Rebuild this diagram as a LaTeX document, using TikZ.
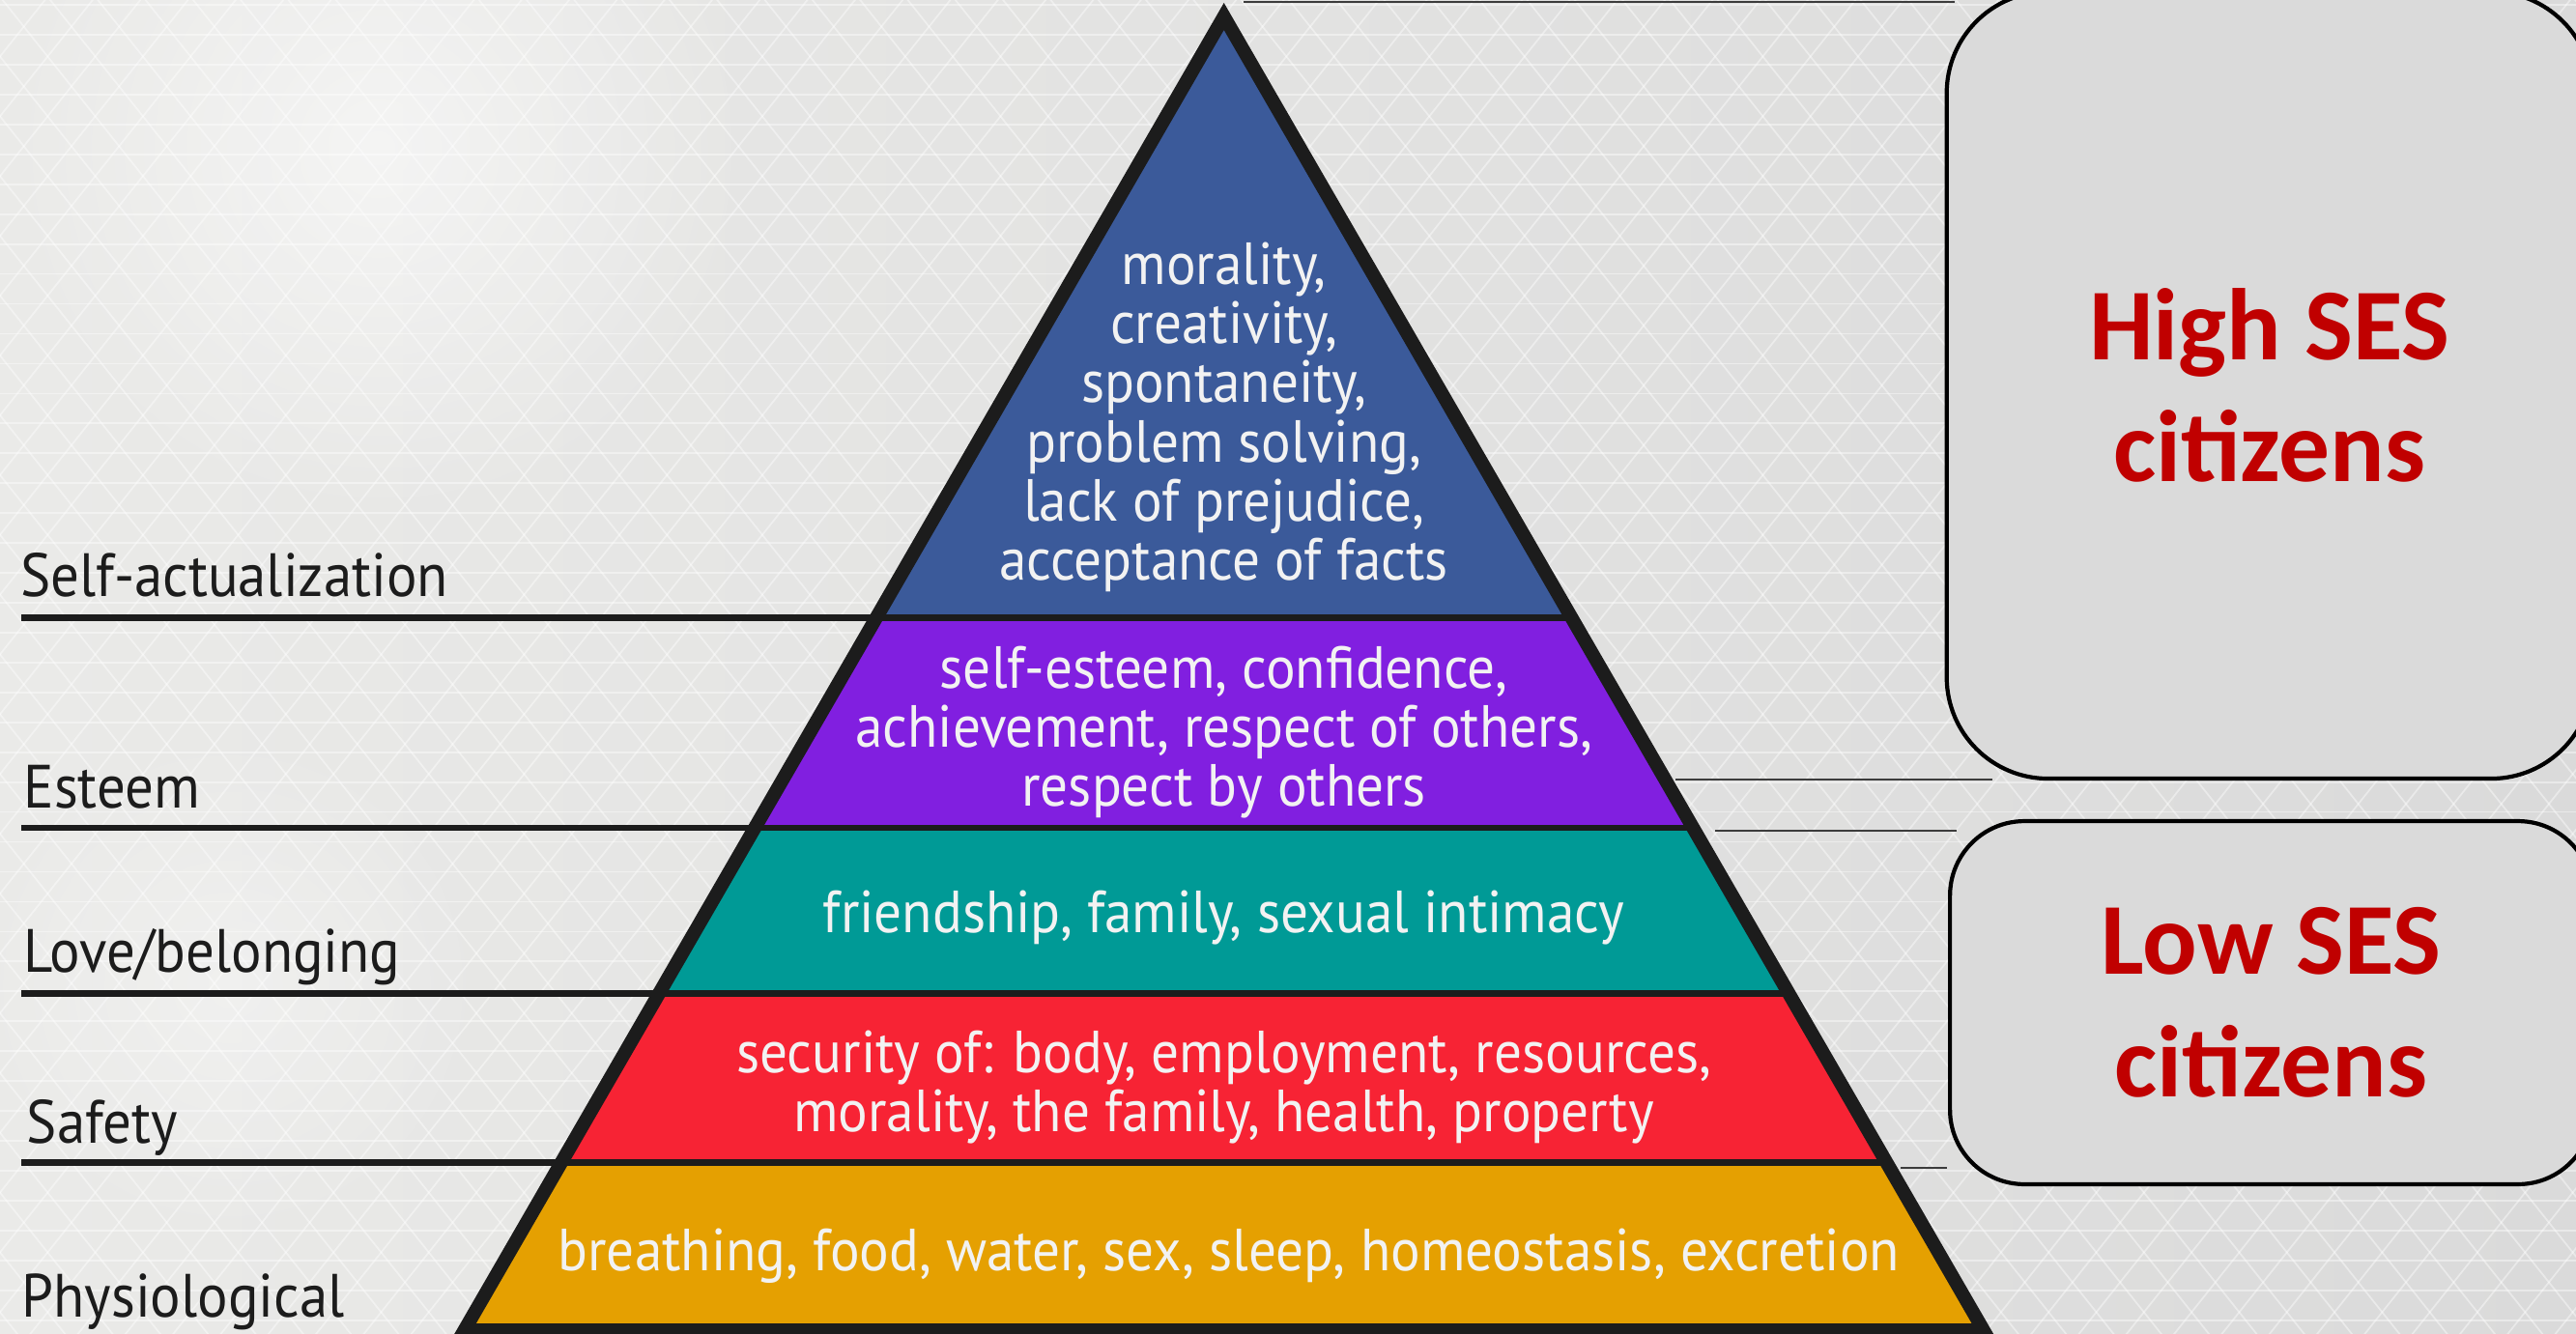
\documentclass[tikz,border=0pt]{standalone}
\usepackage{fontspec}
\usetikzlibrary{calc,fadings}
\newfontfamily\dinfont[FakeStretch=0.93]{PT Sans}
\newfontfamily\calfont{Carlito}

\definecolor{bgleft}{HTML}{EAEAE8}
\definecolor{bgright}{HTML}{DADADA}
\definecolor{tierblue}{HTML}{3B5A9A}
\definecolor{tierpurple}{HTML}{811FE0}
\definecolor{tierteal}{HTML}{009A96}
\definecolor{tierred}{HTML}{F72334}
\definecolor{tiergold}{HTML}{E5A001}
\definecolor{tiertext}{HTML}{F2F2F2}
\definecolor{inkdark}{HTML}{1C1C1C}
\definecolor{boxgray}{HTML}{DADADA}
\definecolor{sesred}{HTML}{C00000}
\definecolor{rulegray}{HTML}{3C3C3C}

\tikzfading[name=softglow, inner color=transparent!0, outer color=transparent!100]

\tikzset{
  tiertxt/.style={font=\dinfont\fontsize{17.5}{17.4}\selectfont, text=tiertext,
    align=center, inner sep=0pt},
  leveltxt/.style={font=\dinfont\fontsize{18}{20}\selectfont, text=inkdark,
    anchor=base west, inner sep=0pt},
  levelline/.style={draw=inkdark, line width=1.9pt},
  outline/.style={draw=inkdark, line width=4pt, line join=miter},
  sesbox/.style={draw=black, line width=1.2pt, fill=boxgray, inner sep=0pt},
  sestxt/.style={font=\calfont\bfseries\fontsize{30}{36}\selectfont,
    text=sesred, align=center, inner sep=0pt},
  thinrule/.style={draw=rulegray, line width=0.6pt},
  lattice/.style={draw=white, line width=0.5pt, opacity=0.42}
}

\begin{document}
\begin{tikzpicture}[x=0.017003cm, y=-0.017003cm]
  % canvas
  \useasboundingbox (0,0) rectangle (1568,812);
  \shade[left color=bgleft, right color=bgright] (0,0) rectangle (1568,812);
  \fill[white, opacity=0.55, path fading=softglow] (230,90) circle (230);
  \fill[white, opacity=0.35, path fading=softglow] (140,600) circle (160);

  % hexagonal lattice texture
  \begin{scope}
    \clip (0,0) rectangle (1568,812);
    \foreach \k in {0,...,45} {
      \draw[lattice] (0,{3+18.2*\k}) -- (1568,{3+18.2*\k});
    }
    \foreach \j in {-23,...,78} {
      \draw[lattice] ({29*\j},-2) -- ({29*\j+650},814);
      \draw[lattice] ({29*\j},-2) -- ({29*\j-650},814);
    }
  \end{scope}

  % pyramid corner points
  \coordinate (apex) at (745,10);
  \coordinate (l1) at (533.5,376);  \coordinate (r1) at (956.5,376);
  \coordinate (l2) at (459.5,504);  \coordinate (r2) at (1030.5,504);
  \coordinate (l3) at (401.1,605);  \coordinate (r3) at (1088.9,605);
  \coordinate (l4) at (341.6,708);  \coordinate (r4) at (1148.4,708);
  \coordinate (l5) at (282.6,810);  \coordinate (r5) at (1207.4,810);

  % tiers
  \fill[tierblue]   (apex) -- (r1) -- (l1) -- cycle;
  \fill[tierpurple] (l1) -- (r1) -- (r2) -- (l2) -- cycle;
  \fill[tierteal]   (l2) -- (r2) -- (r3) -- (l3) -- cycle;
  \fill[tierred]    (l3) -- (r3) -- (r4) -- (l4) -- cycle;
  \fill[tiergold]   (l4) -- (r4) -- (r5) -- (l5) -- cycle;

  % level rules running from the left margin across the pyramid
  \coordinate (m1) at (13,376);
  \coordinate (m2) at (13,504);
  \coordinate (m3) at (13,605);
  \coordinate (m4) at (13,708);
  \draw[levelline] (m1) -- (r1);
  \draw[levelline] (m2) -- (r2);
  \draw[levelline] (m3) -- (r3);
  \draw[levelline] (m4) -- (r4);

  % pyramid outline
  \draw[outline] (apex) -- (r5) -- (l5) -- cycle;

  % tier contents
  \node[tiertxt] (selfact) at (745,254) {morality,\\creativity,\\spontaneity,\\problem solving,\\lack of prejudice,\\acceptance of facts};
  \node[tiertxt] (esteem) at (745,446) {self-esteem, confidence,\\achievement, respect of others,\\respect by others};
  \node[tiertxt] (love) at (745,559) {friendship, family, sexual intimacy};
  \node[tiertxt] (safety) at (745,662) {security of: body, employment, resources,\\morality, the family, health, property};
  \node[tiertxt] (physio) at (748,765) {breathing, food, water, sex, sleep, homeostasis, excretion};

  % level names
  \node[leveltxt] (nself)   at (12,363) {Self-actualization};
  \node[leveltxt] (nest)    at (14,492) {Esteem};
  \node[leveltxt] (nlove)   at (14,592) {Love/belonging};
  \node[leveltxt] (nsafe)   at (16,696) {Safety};
  \node[leveltxt] (nphys)   at (13,802) {Physiological};

  % thin rules on the right
  \coordinate (t1a) at (757,1);    \coordinate (t1b) at (1190,1);
  \coordinate (t2a) at (1020,474.5); \coordinate (t2b) at (1213,474.5);
  \coordinate (t3a) at (1044,506); \coordinate (t3b) at (1191,506);
  \coordinate (t4a) at (1157,711); \coordinate (t4b) at (1185,711);
  \draw[thinrule] (t1a) -- (t1b);
  \draw[thinrule] (t2a) -- (t2b);
  \draw[thinrule] (t3a) -- (t3b);
  \draw[thinrule] (t4a) -- (t4b);

  % SES boxes
  \node[sesbox, rounded corners=1.05cm, minimum width=6.682cm, minimum height=8.145cm]
    (highbox) at (1381.5,234.5) {};
  \node[sestxt] (hightxt) at (highbox.center) {High SES\\citizens};
  \node[sesbox, rounded corners=0.77cm, minimum width=6.648cm, minimum height=3.758cm]
    (lowbox) at (1382.5,610.5) {};
  \node[sestxt] (lowtxt) at (lowbox.center) {Low SES\\citizens};
\end{tikzpicture}
\end{document}
